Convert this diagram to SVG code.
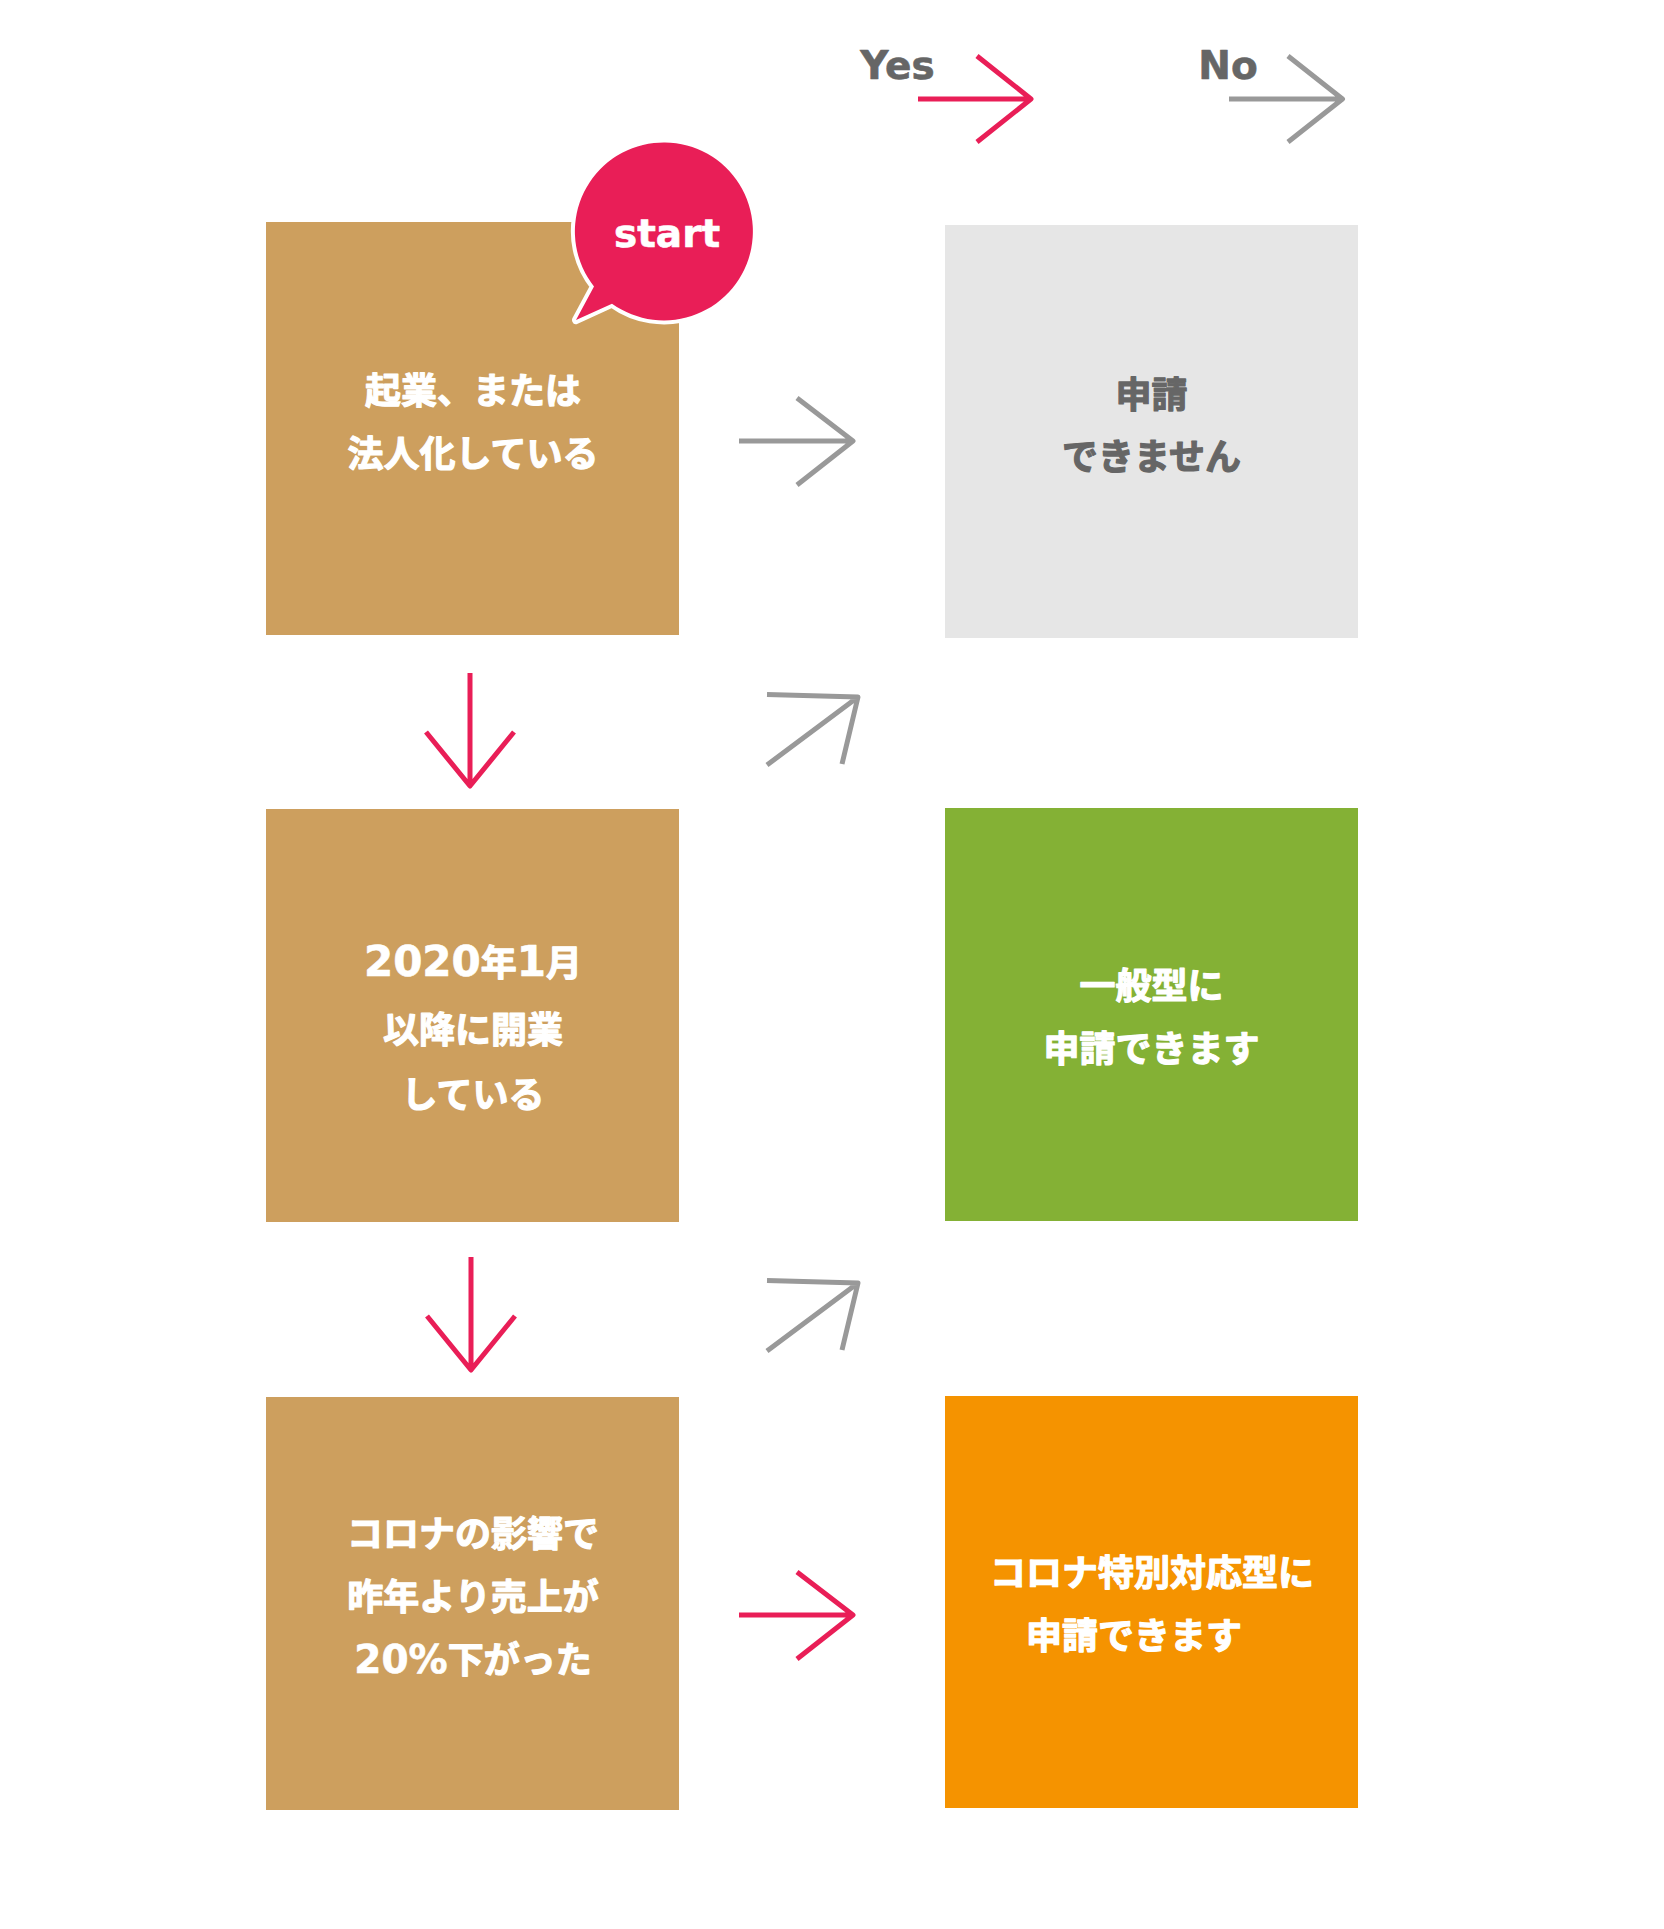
<svg xmlns="http://www.w3.org/2000/svg" width="1664" height="1929" viewBox="0 0 1664 1929">
<style>
.t{font-family:"Noto Sans CJK JP","Noto Sans",sans-serif;font-weight:700;font-size:36px;text-anchor:middle;stroke-linejoin:round;stroke-width:1.2px}
.w{fill:#fff;stroke:#fff}
.g{fill:#666;stroke:#666}
.d{font-family:"DejaVu Sans",sans-serif;font-size:42px;stroke-width:.6px}
.l{font-family:"DejaVu Sans",sans-serif;stroke-width:.6px}
.q{fill:#cd9f5e}
.pk,.gy{fill:none;stroke-width:5;stroke-linejoin:round}
.pk{stroke:#e91e57}
.gy{stroke:#999}
</style>
<rect width="1664" height="1929" fill="#fff"/>
<g id="legend-yes"><text class="t g l" x="897.5" y="78.5" style="font-size:39px">Yes</text></g>
<g id="legend-no"><text class="t g l" x="1228" y="78.5" style="font-size:39px">No</text></g>
<g id="q1"><rect class="q" x="266" y="222" width="413" height="413"/>
<text class="t w" x="473" y="403.5">起業、または</text><text class="t w" x="473" y="466.5">法人化している</text></g>
<g id="q2"><rect class="q" x="266" y="809" width="413" height="413"/>
<text class="t w" x="473" y="976"><tspan class="d">2020</tspan>年<tspan class="d">1</tspan>月</text><text class="t w" x="473" y="1043">以降に開業</text><text class="t w" x="473" y="1108">している</text></g>
<g id="q3"><rect class="q" x="266" y="1397" width="413" height="413"/>
<text class="t w" x="473" y="1546.5">コロナの影響で</text><text class="t w" x="473" y="1610">昨年より売上が</text><text class="t w" x="473" y="1673"><tspan class="d" style="font-size:39px">20%</tspan>下がった</text></g>
<g id="r-none"><rect x="945" y="225" width="413" height="413" fill="#e6e6e6"/>
<text class="t g" x="1151.5" y="407.5">申請</text><text class="t g" x="1151.5" y="470">できません</text></g>
<g id="r-general"><rect x="945" y="808" width="413" height="413" fill="#84b135"/>
<text class="t w" x="1151.5" y="999">一般型に</text><text class="t w" x="1151.5" y="1062">申請できます</text></g>
<g id="r-corona"><rect x="945" y="1396" width="413" height="412" fill="#f59300"/>
<text class="t w" x="1152" y="1586">コロナ特別対応型に</text><text class="t w" x="1134" y="1649">申請できます</text></g>
<g id="start"><path d="M594 286.5A89 89 0 1 1 612 303.7L576 320Z" fill="#e91e57" stroke="#fff" stroke-width="8" stroke-linejoin="round" paint-order="stroke"/>
<text class="t w l" x="667" y="247" style="font-size:39px">start</text></g>
<g id="connectors">
<path class="pk" d="M918 99H1031M977 56L1031 99L977 142"/>
<path class="gy" d="M1229 99H1342.500M1288 56L1342.500 99L1288 142"/>
<path class="gy" d="M739 441H853M797 398L853 441L797 485"/>
<path class="pk" d="M470 673V786M426 732L470 786L514 732"/>
<path class="gy" d="M767 765L858 697M767 694.500L858 697L842 764"/>
<path class="pk" d="M471 1257V1370M427 1316L471 1370L515 1316"/>
<path class="gy" d="M767 1351L858 1283M767 1280.500L858 1283L842 1350"/>
<path class="pk" d="M739 1615H853M797 1572L853 1615L797 1659"/>
</g>
</svg>
